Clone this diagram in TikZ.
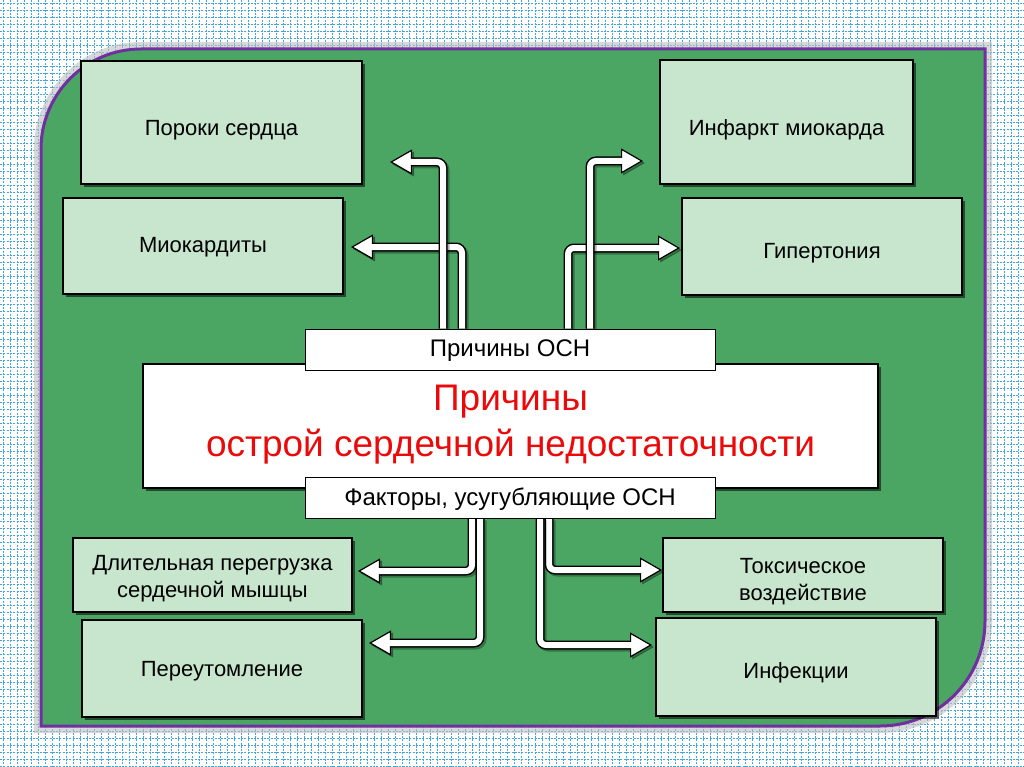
\documentclass[tikz,border=0pt]{standalone}
\usepackage{fontspec}
\setmainfont{Liberation Sans}
\usetikzlibrary{arrows.meta,shadows}
\definecolor{panelgreen}{RGB}{76,166,99}
\definecolor{boxgreen}{RGB}{199,230,205}
\definecolor{purp}{RGB}{112,48,160}
\definecolor{gridblue}{RGB}{70,165,215}
\definecolor{titlered}{RGB}{235,10,10}
\newcommand{\twolines}[2]{\begin{tabular}{@{}c@{}}#1\\#2\end{tabular}}
\newcommand{\lowerby}[2]{\raisebox{-#1}[\height][\depth]{#2}}
\tikzset{
  gbox/.style={draw=black, line width=1.8pt, fill=boxgreen, align=center, inner sep=0pt,
    font=\fontsize{22}{27}\selectfont,
    drop shadow={shadow xshift=3pt, shadow yshift=-3pt, opacity=0.55, fill=black}},
  mainbox/.style={draw=black, line width=1.8pt, fill=white, align=center, inner sep=0pt,
    font=\fontsize{37}{46}\selectfont, text=titlered,
    drop shadow={shadow xshift=3pt, shadow yshift=-3pt, opacity=0.55, fill=black}},
  lblbox/.style={draw=black, line width=0.9pt, fill=white, inner sep=0pt,
    font=\fontsize{24}{27}\selectfont},
  warrow/.style={draw=white, line width=6pt, rounded corners=6pt, shorten >=14pt,
    preaction={draw=black, opacity=0.3, line width=9pt, shorten >=0pt,
      transform canvas={shift={(2,2)}},
      -{Triangle[length=22pt, width=25pt, line width=1pt]}},
    preaction={draw=black, line width=9pt, shorten >=0pt,
      -{Triangle[length=22pt, width=25pt, line width=1.2pt, fill=white]}}},
  gridline/.style={gridblue, line width=0.8pt, dash pattern=on 2pt off 1.3pt}
}
\begin{document}
\begin{tikzpicture}[x=1pt,y=-1pt]
\useasboundingbox (0,0) rectangle (1024,767);
\fill[white] (0,0) rectangle (1024,767);
% background grid
\foreach \i in {3,10,...,1024} \draw[gridline] (\i,0) -- (\i,767);
\foreach \j in {3,10,...,767} \draw[gridline] (0,\j) -- (1024,\j);
% panel halo and panel
\draw[black!25, line width=14pt, opacity=0.6]
  (41,726) -- (41,300) [rounded corners=100pt] -- (41,49) -- (400,49) [sharp corners] -- (985,49) -- (985,400)
  [rounded corners=105pt] -- (985,726) -- (600,726) [sharp corners] -- cycle;
\draw[fill=panelgreen, draw=purp, line width=3pt]
  (41,726) -- (41,300) [rounded corners=100pt] -- (41,49) -- (400,49) [sharp corners] -- (985,49) -- (985,400)
  [rounded corners=105pt] -- (985,726) -- (600,726) [sharp corners] -- cycle;
% boxes
\node[gbox, minimum width=281pt, minimum height=123pt] (por) at (221.5,122.5) {\lowerby{8pt}{Пороки сердца}};
\node[gbox, minimum width=280pt, minimum height=96pt] (mio) at (203,246) {\lowerby{1pt}{Миокардиты}};
\node[gbox, minimum width=253pt, minimum height=124pt] (inf) at (786.5,122) {\lowerby{8pt}{Инфаркт миокарда}};
\node[gbox, minimum width=280pt, minimum height=97pt] (gip) at (822,246.5) {\lowerby{7pt}{Гипертония}};
\node[gbox, minimum width=279pt, minimum height=74pt] (dlit) at (212.5,575) {\lowerby{4pt}{\twolines{Длительная перегрузка}{сердечной мышцы}}};
\node[gbox, minimum width=280pt, minimum height=97pt] (per) at (222,668.5) {\lowerby{3pt}{Переутомление}};
\node[gbox, minimum width=280pt, minimum height=74pt] (tox) at (803,575) {\lowerby{7pt}{\twolines{Токсическое}{воздействие}}};
\node[gbox, minimum width=280pt, minimum height=98pt] (infk) at (796,667) {\lowerby{6pt}{Инфекции}};
\node[mainbox, minimum width=735pt, minimum height=124pt] (main) at (510.5,426) {\raisebox{2pt}[\height][\depth]{\begin{tabular}{@{}c@{}}Причины\\острой сердечной недостаточности\end{tabular}}};
% arrow end points
\coordinate (tpor) at (390,162);
\coordinate (tmio) at (351,247);
\coordinate (tinf) at (643,161);
\coordinate (tgip) at (680,248);
\coordinate (tdlit) at (358,571);
\coordinate (tper) at (369,643);
\coordinate (ttox) at (662,570);
\coordinate (tinfk) at (652,645);
% invisible anchors of the label boxes
\path (510,349.5) node[lblbox, minimum width=410pt, minimum height=41pt, draw=none, fill=none] (top) {}
      (510,497.5) node[lblbox, minimum width=410pt, minimum height=41pt, draw=none, fill=none] (bot) {};
% arrows
\draw[warrow] ([xshift=-48pt]top.north) |- (tmio);
\draw[warrow] ([xshift=-67pt]top.north) |- (tpor);
\draw[warrow] ([xshift=58pt]top.north) |- (tgip);
\draw[warrow] ([xshift=80pt]top.north) |- (tinf);
\draw[warrow] ([xshift=-38pt]bot.south) |- (tdlit);
\draw[warrow] ([xshift=-30pt]bot.south) |- (tper);
\draw[warrow] ([xshift=39pt]bot.south) |- (ttox);
\draw[warrow] ([xshift=30pt]bot.south) |- (tinfk);
% label boxes drawn over arrow starts
\node[lblbox, minimum width=410pt, minimum height=41pt] (topl) at (top) {\lowerby{1pt}{Причины ОСН}};
\node[lblbox, minimum width=410pt, minimum height=41pt] (botl) at (bot) {\lowerby{2pt}{Факторы, усугубляющие ОСН}};
\end{tikzpicture}
\end{document}
